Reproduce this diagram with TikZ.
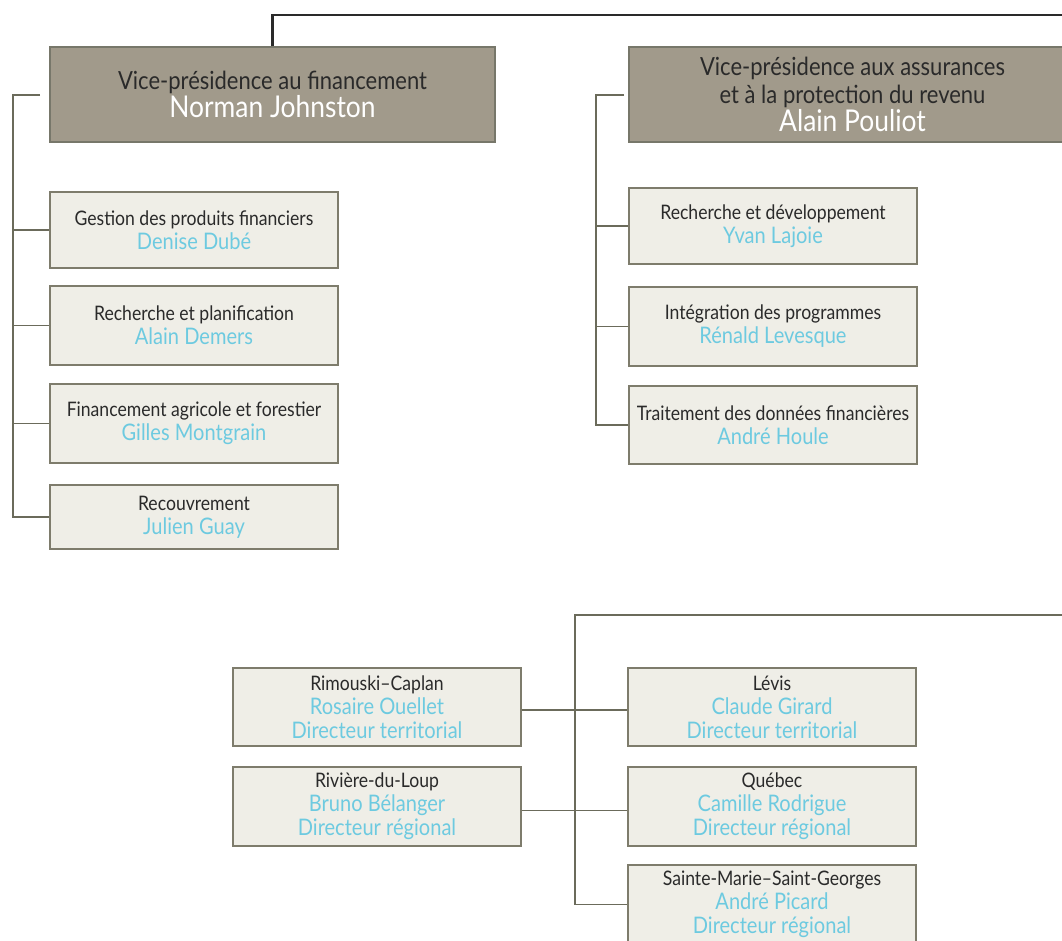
\documentclass[tikz,border=0pt]{standalone}
\usepackage{fontspec}
\setmainfont[FakeStretch=0.88]{Lato}
\definecolor{vpfill}{HTML}{A19A8B}
\definecolor{vpline}{HTML}{77776A}
\definecolor{unitfill}{HTML}{EFEEE7}
\definecolor{unitline}{HTML}{7E7C6C}
\definecolor{railcol}{HTML}{6B6B5B}
\definecolor{nameblue}{HTML}{6DCAE0}
\definecolor{textdark}{HTML}{2A2A2A}
\newcommand\vpnom[1]{{\color{white}\fontsize{30}{28}\selectfont #1}}
\newcommand\nom[1]{{\color{nameblue}\fontsize{22.8}{24}\selectfont #1}}
\tikzset{
  vpbox/.style={draw=vpline, fill=vpfill, line width=1.3pt, inner sep=0pt, align=center,
    text=textdark, font=\fontsize{25}{28}\selectfont},
  unitbox/.style={draw=unitline, fill=unitfill, line width=1.3pt, inner sep=0pt, align=center,
    minimum width=288pt, text=textdark, font=\fontsize{20}{24}\selectfont},
  link/.style={draw=railcol, line width=1.3pt},
  topline/.style={draw=textdark, line width=2.6pt}
}
\begin{document}
\begin{tikzpicture}[x=1pt, y=-1pt, line join=miter]
  \useasboundingbox (0,0) rectangle (1062,941);
  \clip (0,0) rectangle (1062,941);
  % vice-presidences
  \node[vpbox, minimum width=445pt, minimum height=95pt] (vpfin) at (272.5,94.5)
    {Vice-présidence au financement\\\vpnom{Norman Johnston}};
  \node[vpbox, minimum width=447pt, minimum height=95pt] (vpass) at (852.5,94.5)
    {Vice-présidence aux assurances\\et à la protection du revenu\\\vpnom{Alain Pouliot}};
  \coordinate (topright) at (1062,15);
  \draw[topline] (vpfin.north) -- (vpfin.north |- topright) -- (topright);
  % financement
  \node[unitbox, minimum height=76pt] (gestion) at (194,230) {Gestion des produits financiers\\\nom{Denise Dubé}};
  \node[unitbox, minimum height=79pt] (planif) at (194,325.5) {Recherche et planification\\\nom{Alain Demers}};
  \node[unitbox, minimum height=79pt] (agricole) at (194,423.5) {Financement agricole et forestier\\\nom{Gilles Montgrain}};
  \node[unitbox, minimum height=64pt] (recouv) at (194,517) {Recouvrement\\\nom{Julien Guay}};
  \coordinate (finstub) at (40,95);
  \coordinate (finrail) at (13,95);
  \draw[link] (finstub) -- (finrail) |- (recouv.west);
  \foreach \u in {gestion,planif,agricole}
    \draw[link] (finrail |- \u.west) -- (\u.west);
  % assurances
  \node[unitbox, minimum height=76pt] (rdev) at (773,226) {Recherche et développement\\\nom{Yvan Lajoie}};
  \node[unitbox, minimum height=79pt] (integ) at (773,326.5) {Intégration des programmes\\\nom{Rénald Levesque}};
  \node[unitbox, minimum height=78pt] (traite) at (773,425) {Traitement des données financières\\\nom{André Houle}};
  \coordinate (assstub) at (624,95);
  \coordinate (assrail) at (596,95);
  \draw[link] (assstub) -- (assrail) |- (traite.west);
  \foreach \u in {rdev,integ}
    \draw[link] (assrail |- \u.west) -- (\u.west);
  % directions regionales
  \node[unitbox, minimum height=78pt] (rimouski) at (377,707) {Rimouski–Caplan\\\nom{Rosaire Ouellet}\\\nom{Directeur territorial}};
  \node[unitbox, minimum height=79pt] (riviere) at (377,806.5) {Rivière-du-Loup\\\nom{Bruno Bélanger}\\\nom{Directeur régional}};
  \node[unitbox, minimum height=78pt] (levis) at (772,707) {Lévis\\\nom{Claude Girard}\\\nom{Directeur territorial}};
  \node[unitbox, minimum height=79pt] (quebec) at (772,806.5) {Québec\\\nom{Camille Rodrigue}\\\nom{Directeur régional}};
  \node[unitbox, minimum height=79pt] (stemarie) at (772,904.5) {Sainte-Marie–Saint-Georges\\\nom{André Picard}\\\nom{Directeur régional}};
  \coordinate (regtop) at (575,615);
  \coordinate (regright) at (1062,615);
  \draw[link] (regright) -- (regtop) |- (stemarie.west);
  \draw[link] ([yshift=-3pt]rimouski.east) -- ([yshift=-3pt]levis.west);
  \draw[link] ([yshift=-4pt]riviere.east) -- ([yshift=-4pt]quebec.west);
\end{tikzpicture}
\end{document}
